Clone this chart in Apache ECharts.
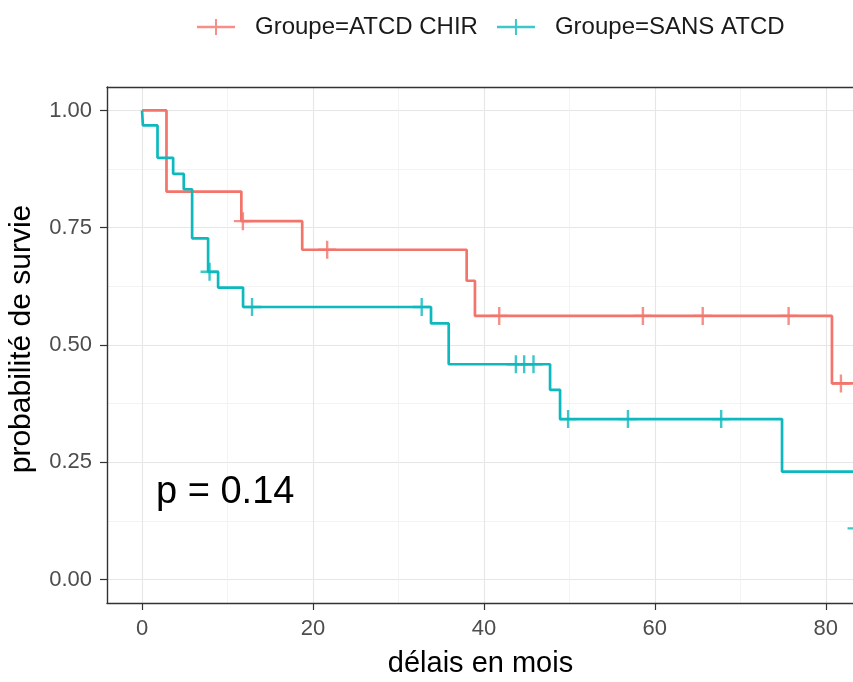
<!DOCTYPE html>
<html>
<head>
<meta charset="utf-8">
<script src="https://cdn.jsdelivr.net/npm/echarts@6/dist/echarts.min.js"></script>
<style>
  html, body { margin: 0; padding: 0; background: #fff; }
  #km_chart { width: 853px; height: 682px; }
</style>
</head>
<body>
<div id="km_chart"></div>
<script>
//Kaplan-Meier curves, values
var groups = ['Groupe=ATCD CHIR', 'Groupe=SANS ATCD'];
var groupColors = ['#F2746B', '#0DB9BE'];

//ATCD CHIR : event times and survival right after each event
var chirEventTimes = [0, 2.86, 11.62, 18.74, 37.98, 38.95, 80.72];
var chirSurvival = [1.0, 0.827, 0.764, 0.703, 0.637, 0.562, 0.418];
var chirCensorTimes = [11.8, 21.66, 41.79, 58.6, 65.6, 75.65, 81.77, 86];

//SANS ATCD
var sansEventTimes = [0, 0.1, 1.81, 3.64, 4.88, 5.86, 7.73, 8.9, 11.82, 33.81, 35.88, 47.74, 48.91, 74.88, 83.5];
var sansSurvival = [1.0, 0.968, 0.899, 0.865, 0.832, 0.7275, 0.656, 0.6225, 0.581, 0.546, 0.459, 0.4045, 0.342, 0.23, 0.109];
var sansCensorTimes = [7.9, 12.87, 32.72, 43.74, 44.71, 45.8, 49.85, 56.85, 67.76, 83.6];

//axis ticks
var xTicks = [0, 20, 40, 60, 80];
var xMinorTicks = [10, 30, 50, 70];
var yTicks = [0, 0.25, 0.5, 0.75, 1];
var yMinorTicks = [0.125, 0.375, 0.625, 0.875];
var pValueText = 'p = 0.14';

var fontFam = '"Liberation Sans", Arial, sans-serif';

//survival value of a step curve at time t
function survAt(times, surv, t)
{
    var s = surv[0];
    for (var i = 0; i < times.length; i++)
    {
        if (times[i] <= t) s = surv[i];
    }
    return s;
}

//line points = events + censored points, sorted by time
function curvePoints(times, surv, censors)
{
    var pts = [];
    for (var i = 0; i < times.length; i++) pts.push([times[i], surv[i]]);
    for (var j = 0; j < censors.length; j++) pts.push([censors[j], survAt(times, surv, censors[j])]);
    pts.sort(function(a, b) { return a[0] - b[0]; });
    return pts;
}

function censorPoints(times, surv, censors)
{
    return censors.map(function(t) { return [t, survAt(times, surv, t)]; });
}

var plusPath = 'path://M-1.2,-9 H1.2 V-1.2 H9 V1.2 H1.2 V9 H-1.2 V1.2 H-9 V-1.2 H-1.2 Z';
var legendIcon = 'path://M0,6.7 H38 V9.3 H0 Z M18,0 H20 V16 H18 Z';

var curves = [
    curvePoints(chirEventTimes, chirSurvival, chirCensorTimes),
    curvePoints(sansEventTimes, sansSurvival, sansCensorTimes)
];
var censors = [
    censorPoints(chirEventTimes, chirSurvival, chirCensorTimes),
    censorPoints(sansEventTimes, sansSurvival, sansCensorTimes)
];

var series = [];
for (var g = 0; g < groups.length; g++)
{
    series.push({
        name: groups[g],
        type: 'line',
        step: 'end',
        showSymbol: false,
        color: groupColors[g],
        lineStyle: { width: 2.7 },
        data: curves[g],
        z: 3 + g
    });
    series.push({
        name: groups[g],
        type: 'scatter',
        symbol: plusPath,
        symbolSize: 18,
        clip: false,
        color: groupColors[g],
        data: censors[g],
        z: 3 + g
    });
}

var majorGrid = { show: true, lineStyle: { color: '#E6E6E6', width: 1.1 } };
var minorGrid = { show: true, lineStyle: { color: '#F0F0F0', width: 0.8 } };
var axisDark = { color: '#333333', width: 1.4 };

var option = {
    animation: false,
    backgroundColor: '#ffffff',
    title: {
        text: pValueText,
        left: 151,
        top: 469,
        textStyle: { fontSize: 38, fontWeight: 'normal', color: '#000', fontFamily: fontFam }
    },
    legend: {
        left: 192,
        top: 10,
        itemWidth: 38,
        itemHeight: 16,
        itemGap: 19,
        itemStyle: { opacity: 0.8 },
        textStyle: { fontSize: 24, color: '#1a1a1a', fontFamily: fontFam, padding: [0, 0, 0, 15] },
        data: groups.map(function(n) { return { name: n, icon: legendIcon }; })
    },
    grid: {
        left: 107,
        right: -1,
        top: 87,
        bottom: 79,
        containLabel: false,
        outerBoundsMode: 'none'
    },
    xAxis: [
        {
            type: 'value',
            min: -4.1,
            max: 83.3,
            position: 'bottom',
            name: 'délais en mois',
            nameLocation: 'middle',
            nameGap: 46,
            nameTextStyle: { fontSize: 29, color: '#000', fontFamily: fontFam },
            axisLine: { show: true, onZero: false, lineStyle: axisDark },
            axisTick: { show: true, length: 7, customValues: xTicks, lineStyle: { color: '#333', width: 1.2 } },
            axisLabel: { customValues: xTicks, fontSize: 22, color: '#4D4D4D', margin: 15, fontFamily: fontFam },
            splitLine: majorGrid
        },
        {
            type: 'value',
            min: -4.1,
            max: 83.3,
            position: 'top',
            axisLine: { show: true, onZero: false, lineStyle: axisDark },
            axisTick: { show: false, customValues: xMinorTicks },
            axisLabel: { show: false },
            splitLine: minorGrid
        }
    ],
    yAxis: [
        {
            type: 'value',
            min: -0.05,
            max: 1.05,
            position: 'left',
            name: 'probabilité de survie',
            nameLocation: 'middle',
            nameRotate: 90,
            nameGap: 70,
            nameTextStyle: { fontSize: 30, color: '#000', fontFamily: fontFam, padding: [0, 0, 0, 12] },
            axisLine: { show: true, onZero: false, lineStyle: axisDark },
            axisTick: { show: true, length: 7, customValues: yTicks, lineStyle: { color: '#333', width: 1.2 } },
            axisLabel: {
                customValues: yTicks, fontSize: 22, color: '#4D4D4D', margin: 15, fontFamily: fontFam,
                formatter: function(v) { return v.toFixed(2); }
            },
            splitLine: majorGrid
        },
        {
            type: 'value',
            min: -0.05,
            max: 1.05,
            position: 'right',
            axisLine: { show: false, onZero: false },
            axisTick: { show: false, customValues: yMinorTicks },
            axisLabel: { show: false },
            splitLine: minorGrid
        }
    ],
    series: series
};

var kmChart = echarts.init(document.getElementById('km_chart'));
kmChart.setOption(option);
</script>
</body>
</html>
